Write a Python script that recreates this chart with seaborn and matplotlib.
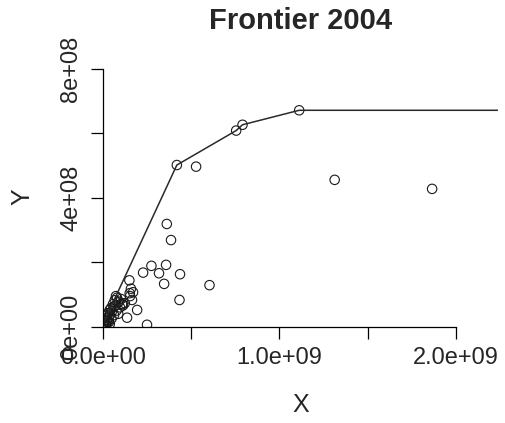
import numpy as np
import pandas as pd
import matplotlib
matplotlib.use("Agg")
import matplotlib.pyplot as plt
import seaborn as sns

# input (X, in 1e9) and output (Y, in 1e8) of each unit
x_e9 = [0.420, 0.756, 0.792, 1.113, 0.529, 1.314, 1.866, 0.363, 0.387,
        0.276, 0.359, 0.229, 0.319, 0.438, 0.348, 0.605, 0.435, 0.251,
        0.195, 0.138, 0.151, 0.160, 0.172, 0.153, 0.166, 0.155, 0.125,
        0.111, 0.075, 0.003, 0.005, 0.008, 0.012, 0.018, 0.022, 0.025,
        0.030, 0.033, 0.036, 0.040, 0.042, 0.047, 0.050, 0.053, 0.058,
        0.062, 0.064, 0.068, 0.070, 0.078, 0.081, 0.085, 0.088, 0.092,
        0.098, 0.104, 0.110, 0.115, 0.010, 0.020, 0.015, 0.028, 0.006,
        0.018, 0.040]
y_e8 = [5.02, 6.09, 6.27, 6.72, 4.97, 4.56, 4.28, 3.19, 2.69,
        1.89, 1.92, 1.68, 1.66, 1.63, 1.33, 1.29, 0.83, 0.06,
        0.52, 0.28, 1.44, 1.18, 1.07, 1.04, 0.83, 0.95, 0.73,
        0.70, 0.95, 0.10, 0.12, 0.18, 0.22, 0.28, 0.35, 0.20,
        0.42, 0.28, 0.15, 0.52, 0.38, 0.58, 0.25, 0.48, 0.70,
        0.60, 0.36, 0.82, 0.66, 0.50, 0.90, 0.75, 0.40, 0.78,
        0.60, 0.86, 0.70, 0.66, 0.05, 0.10, 0.12, 0.14, 0.02,
        0.04, 0.08]

# frontier vertices
front_x_e9 = [0.003, 0.420, 0.756, 0.792, 1.113]
front_y_e8 = [0.10, 5.02, 6.09, 6.27, 6.72]

x_ticks = [0, 0.5e9, 1.0e9, 1.5e9, 2.0e9]
x_labels = ["0.0e+00", "", "1.0e+09", "", "2.0e+09"]
y_ticks = [0, 2e8, 4e8, 6e8, 8e8]
y_labels = ["0e+00", "", "4e+08", "", "8e+08"]

df = pd.DataFrame({"X": np.array(x_e9) * 1e9, "Y": np.array(y_e8) * 1e8})
xmax = 1.2 * df["X"].max()
ymax = 1.2 * df["Y"].max()

fx = list(np.array(front_x_e9) * 1e9) + [xmax]
fy = list(np.array(front_y_e8) * 1e8) + [front_y_e8[-1] * 1e8]
front = pd.DataFrame({"X": fx, "Y": fy})

sns.set_style("white")
plt.rcParams['font.family'] = ['Liberation Sans', 'DejaVu Sans']

fig = plt.figure(figsize=(5.05, 4.23), dpi=100)
ax = fig.add_axes([102.7 / 505, 1 - 326.7 / 423, (498 - 102.7) / 505, (326.7 - 67) / 423])

sns.lineplot(data=front, x="X", y="Y", sort=False, estimator=None,
             color="#2a2a2a", linewidth=1.1, ax=ax)
sns.scatterplot(data=df, x="X", y="Y", marker="o", s=46,
                facecolor="none", edgecolor="#1a1a1a", linewidth=0.8, ax=ax)

ax.set_xlim(0, xmax)
ax.set_ylim(0, ymax)

for side in ["top", "right"]:
    ax.spines[side].set_visible(False)
for side in ["left", "bottom"]:
    ax.spines[side].set_color("black")
    ax.spines[side].set_linewidth(0.9)
ax.spines["bottom"].set_bounds(0, 2e9)
ax.spines["left"].set_bounds(0, 8e8)

ax.set_xticks(x_ticks)
ax.set_xticklabels(x_labels, fontsize=17)
ax.set_yticks(y_ticks)
ax.set_yticklabels(y_labels, fontsize=17, rotation=90, va="center")
ax.tick_params(axis="both", direction="out", length=8.6, width=0.9,
               color="black", left=True, bottom=True)
ax.tick_params(axis="x", pad=6)
ax.tick_params(axis="y", pad=6)

ax.set_xlabel("X", fontsize=18, va="center", ha="center")
ax.set_ylabel("Y", fontsize=18, va="center", ha="center")
ax.xaxis.set_label_coords(0.5, -(405 - 326.7) / 259.7)
ax.yaxis.set_label_coords((22 - 102.7) / 395.3, 0.5)

ax.text(0.5, (326.7 - 21) / 259.7, "Frontier 2004", transform=ax.transAxes,
        ha="center", va="center", fontsize=21, fontweight="bold")

fig.savefig("out.png", dpi=100)
